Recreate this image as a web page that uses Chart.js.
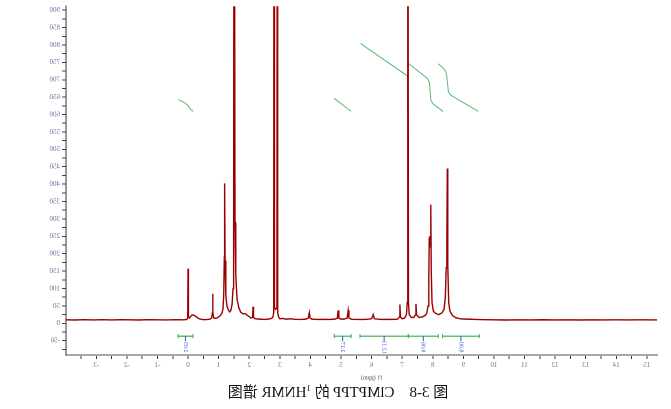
<!DOCTYPE html>
<html><head><meta charset="utf-8">
<script src="https://cdn.jsdelivr.net/npm/chart.js@4"></script>
<style>
html,body{margin:0;padding:0;background:#fff;}
#wrap{position:relative;width:671px;height:409px;transform:scaleX(-1);transform-origin:50% 50%;overflow:hidden;}
#c{position:absolute;left:0;top:0;}
#cap{position:absolute;left:0;top:382px;width:666px;text-align:center;font-size:15px;font-family:"Liberation Serif","Noto Sans CJK SC",serif;color:#111;line-height:20px;white-space:pre;}
#cap sup{font-size:9px;vertical-align:6px;line-height:0;}
</style></head>
<body>
<div id="wrap">
<canvas id="c" width="671" height="386"></canvas>
<div id="cap">图 3-8　ClMPTPP 的 <sup>1</sup>HNMR 谱图</div>
</div>
<script>
// ---- data ----
const ppm = [-3.99,-3.7,-3.4,-3.1,-2.8,-2.5,-2.2,-1.9,-1.6,-1.3,-1.0,-0.7,-0.4,-0.15,-0.04,-0.012,0.0,0.012,0.04,0.08,0.13,0.2,0.28,0.36,0.45,0.55,0.65,0.72,0.77,0.795,0.805,0.815,0.84,0.9,0.98,1.05,1.1,1.14,1.165,1.185,1.195,1.21,1.235,1.27,1.32,1.36,1.40,1.44,1.47,1.49,1.505,1.52,1.535,1.56,1.6,1.66,1.72,1.8,1.86,1.92,2.0,2.06,2.11,2.125,2.14,2.2,2.35,2.5,2.62,2.72,2.77,2.80,2.81,2.825,2.865,2.905,2.92,2.93,2.96,3.0,3.1,3.2,3.35,3.5,3.7,3.85,3.93,3.965,3.99,4.05,4.2,4.4,4.6,4.8,4.88,4.905,4.93,5.0,5.1,5.2,5.235,5.26,5.35,5.55,5.8,6.0,6.055,6.09,6.3,6.5,6.7,6.85,6.905,6.925,6.945,7.0,7.08,7.14,7.165,7.175,7.19,7.205,7.23,7.3,7.38,7.43,7.45,7.47,7.55,7.65,7.74,7.8,7.845,7.87,7.885,7.905,7.92,7.935,7.95,7.975,8.02,8.1,8.2,8.3,8.37,8.41,8.44,8.455,8.465,8.475,8.49,8.52,8.56,8.65,8.75,8.9,9.1,9.4,9.7,10.0,10.4,10.8,11.2,11.6,12.0,12.4,12.8,13.2,13.6,14.0,14.4,14.8,15.33];
const intensity = [10,9.5,10.5,9.8,10.3,9.6,10.4,10,9.5,10.5,10,9.6,10.4,10,11,16,157,18,15,19,24,23,18,13,11,10.5,11,12,15,30,85,30,15,14,17,22,28,40,80,190,402,180,80,50,38,33,37,55,100,290,2000,2000,290,140,70,45,32,27,28,24,19,15,17,48,17,13,12,11,12,14,17,30,2000,45,40,45,2000,30,18,13,14,12,13,11.5,11,12,15,31,15,12,11,11.5,11,12,15,37,15,12,12,15,37,15,11.5,11,11,13,25,13,11,11.5,11,12,18,54,18,13,15,25,60,2000,2000,60,25,17,17,24,56,24,17,18,22,28,50,130,245,251,220,341,150,60,35,28,25,30,40,75,160,236,230,445,170,60,35,22,16,13,12,11,10.5,10,9.5,10,9.6,10.2,9.7,10,9.5,10.1,9.7,10,9.6,10.1,9.8];

const intA_x = [-0.32,-0.12,0.0,0.06,0.17],   intA_y = [643,634,626,617,609];
const intB_x = [4.77,5.33],                   intB_y = [647,609];
const intC_x = [5.64,7.17,7.175],             intC_y = [804,711,607];
const intD_x = [7.20,7.82,7.89,7.94,8.02,8.34], intD_y = [747,704,692,640,630,609];
const intE_x = [8.18,8.40,8.45,8.51,8.58,9.49], intE_y = [746,728,716,666,656,609];

const integFrom  = [-0.33, 4.78, 5.62, 7.20, 8.32];
const integTo    = [0.16, 5.33, 7.20, 8.18, 9.52];
const integLabel = ['2.05','2.17','12.11','8.06','8.00'];
const integLevel = -37;

const xMajorTicks = [-3,-2,-1,0,1,2,3,4,5,6,7,8,9,10,11,12,13,14,15];
const yMajorTicks = [-50,0,50,100,150,200,250,300,350,400,450,500,550,600,650,700,750,800,850,900];
const xTitle = 'f1 (ppm)';

// ---- chart ----
const pts = (xs, ys) => xs.map((x, i) => ({x: x, y: ys[i]}));
const green = '#5cb874';
const lbl = '#6a6fa0';

function withMinor(arr, half) {
  const out = [];
  arr.forEach(v => { out.push(v); out.push(v + half); });
  out.unshift(arr[0] - half);
  return out;
}

const integralPlugin = {
  id: 'integrals',
  afterDatasetsDraw(chart) {
    const ctx = chart.ctx, xs = chart.scales.x, ys = chart.scales.y;
    const yb = ys.getPixelForValue(integLevel);
    ctx.save();
    integFrom.forEach((f, i) => {
      const x1 = xs.getPixelForValue(f), x2 = xs.getPixelForValue(integTo[i]);
      const xm = xs.getPixelForValue((f + integTo[i]) / 2);
      ctx.strokeStyle = '#2fb04a'; ctx.lineWidth = 1.2;
      ctx.beginPath(); ctx.moveTo(x1, yb); ctx.lineTo(x2, yb); ctx.stroke();
      ctx.lineWidth = 1;
      ctx.beginPath(); ctx.moveTo(x1, yb - 2); ctx.lineTo(x1, yb + 2);
      ctx.moveTo(x2, yb - 2); ctx.lineTo(x2, yb + 2); ctx.stroke();
      ctx.strokeStyle = '#3d4fb5';
      ctx.beginPath(); ctx.moveTo(xm, yb); ctx.lineTo(xm, yb + 5); ctx.stroke();
      ctx.save();
      ctx.translate(xm, yb + 11);
      ctx.rotate(-Math.PI / 2);
      ctx.fillStyle = '#4a5cc0';
      ctx.font = '6px "Liberation Serif"';
      ctx.textAlign = 'center'; ctx.textBaseline = 'middle';
      ctx.fillText(integLabel[i], 0, 0);
      ctx.restore();
    });
    ctx.fillStyle = '#444';
    ctx.font = '6px "Liberation Serif"';
    ctx.textAlign = 'center'; ctx.textBaseline = 'middle';
    ctx.fillText(xTitle, xs.getPixelForValue(6.0), 378);
    ctx.restore();
  }
};

new Chart(document.getElementById('c'), {
  type: 'scatter',
  data: {
    datasets: [
      {data: pts(ppm, intensity), showLine: true, borderColor: '#9a0000', borderWidth: 1.4, pointRadius: 0, tension: 0},
      {data: pts(intA_x, intA_y), showLine: true, borderColor: green, borderWidth: 1, pointRadius: 0},
      {data: pts(intB_x, intB_y), showLine: true, borderColor: green, borderWidth: 1, pointRadius: 0},
      {data: pts(intC_x, intC_y), showLine: true, borderColor: green, borderWidth: 1, pointRadius: 0},
      {data: pts(intD_x, intD_y), showLine: true, borderColor: green, borderWidth: 1, pointRadius: 0},
      {data: pts(intE_x, intE_y), showLine: true, borderColor: green, borderWidth: 1, pointRadius: 0}
    ]
  },
  options: {
    responsive: false,
    animation: false,
    devicePixelRatio: 2,
    layout: {padding: {left: 14, top: 3, right: 0, bottom: 0}},
    plugins: {legend: {display: false}, tooltip: {enabled: false}},
    scales: {
      x: {
        type: 'linear', reverse: true, min: -3.99, max: 15.33, position: 'bottom',
        afterBuildTicks: s => { s.ticks = withMinor(xMajorTicks, 0.5).filter(v => v >= -3.99 && v <= 15.33).map(v => ({value: v})); },
        afterFit: s => { s.height = 31; },
        ticks: {autoSkip: false, maxRotation: 0, padding: 2, color: lbl,
                font: {family: 'Liberation Serif', size: 7},
                callback: v => (xMajorTicks.includes(v) ? String(v) : '')},
        grid: {drawOnChartArea: false, drawTicks: true, tickLength: 4, color: '#333'},
        border: {color: '#a8a8a8', width: 2}
      },
      y: {
        type: 'linear', position: 'right', min: -91.1, max: 911.4,
        afterBuildTicks: s => { s.ticks = withMinor(yMajorTicks, 25).filter(v => v <= 911).map(v => ({value: v})); },
        afterFit: s => { s.width = 66; },
        ticks: {autoSkip: false, padding: 2, color: lbl,
                font: {family: 'Liberation Serif', size: 7},
                callback: v => (yMajorTicks.includes(v) ? String(v) : '')},
        grid: {drawOnChartArea: false, drawTicks: true, tickLength: 4, color: '#444'},
        border: {color: '#333', width: 1}
      }
    }
  },
  plugins: [integralPlugin]
});
</script>
</body></html>
